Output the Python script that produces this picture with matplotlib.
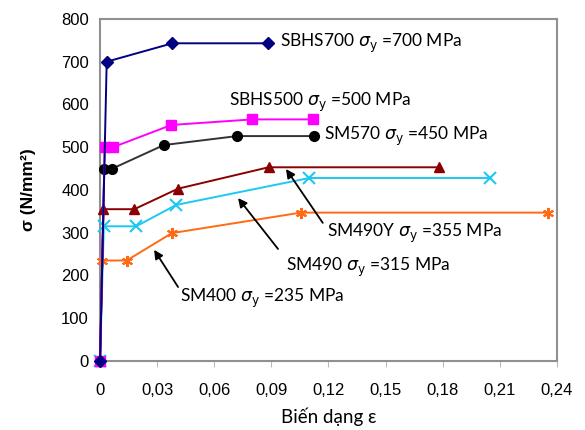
import matplotlib.pyplot as plt
from matplotlib.ticker import FuncFormatter

# Biến dạng (strain) và ứng suất (MPa) cho từng loại thép
eps_sbhs700 = [0, 0.0035, 0.038, 0.088]
sig_sbhs700 = [0, 700, 743, 743]

eps_sbhs500 = [0, 0.0025, 0.0068, 0.0375, 0.080, 0.112]
sig_sbhs500 = [0, 500, 500, 552, 565, 565]

eps_sm570 = [0, 0.0022, 0.0065, 0.0335, 0.072, 0.1125]
sig_sm570 = [0, 450, 450, 505, 526, 526]

eps_sm490y = [0, 0.0018, 0.018, 0.041, 0.0885, 0.178]
sig_sm490y = [0, 355, 355, 403, 453, 453]

eps_sm490 = [0, 0.002, 0.019, 0.040, 0.110, 0.205]
sig_sm490 = [0, 315, 315, 365, 428, 428]

eps_sm400 = [0, 0.001, 0.014, 0.0377, 0.1055, 0.2355]
sig_sm400 = [0, 235, 235, 299, 347, 347]

fig = plt.figure(figsize=(5.85, 4.30), dpi=100)
ax = fig.add_axes([0.171, 0.1605, 0.781, 0.7955])

kw = dict(lw=1.4, markersize=7, clip_on=False, zorder=3)
ax.plot(eps_sm400, sig_sm400, color='#FF6A13', marker=(6, 2, 0), mew=1.5, markersize=8,
        lw=1.4, clip_on=False, zorder=3)
ax.plot(eps_sm490, sig_sm490, color='#1EC8F0', marker='x', mew=1.5, markersize=9,
        lw=1.4, clip_on=False, zorder=3)
ax.plot(eps_sm490y, sig_sm490y, color='#8B0000', marker='^', **kw)
ax.plot(eps_sm570, sig_sm570, color='#333333', marker='o', mfc='black', mec='black', **kw)
ax.plot(eps_sbhs500, sig_sbhs500, color='#FF00FF', marker='s', **kw)
ax.plot(eps_sbhs700, sig_sbhs700, color='#000080', marker='D', markersize=6, lw=1.4,
        clip_on=False, zorder=3)

ax.set_xlim(0, 0.24)
ax.set_ylim(0, 800)
ax.set_xticks([0, 0.03, 0.06, 0.09, 0.12, 0.15, 0.18, 0.21, 0.24])
ax.set_yticks(range(0, 801, 100))
ax.xaxis.set_major_formatter(FuncFormatter(
    lambda v, p: '0' if v == 0 else f'{v:.2f}'.replace('.', ',')))

tick_font = 'Liberation Sans'
for lab in ax.get_xticklabels() + ax.get_yticklabels():
    lab.set_family(tick_font)
    lab.set_fontsize(12)
ax.tick_params(axis='x', direction='out', length=4, color='#BBBBBB', pad=12)
ax.tick_params(axis='y', length=0, pad=8)

for s in ax.spines.values():
    s.set_color('#909090')
    s.set_linewidth(1.5)

ax.set_ylabel('σ (N/mm²)', family=tick_font, fontweight='bold', fontsize=12.5, labelpad=18)
ax.set_xlabel('Biến dạng ε', family='Lato', fontsize=13.5, labelpad=7)

lab_font = dict(family='Lato', fontsize=12.5, va='center')
sg = r'$\sigma_{\mathrm{y}}$'
ax.text(0.0945, 743, f'SBHS700 {sg} =700 MPa', **lab_font)
ax.text(0.068, 604, f'SBHS500 {sg} =500 MPa', **lab_font)
ax.text(0.1175, 526, f'SM570 {sg} =450 MPa', **lab_font)
ax.text(0.1192, 299, f'SM490Y {sg} =355 MPa', **lab_font)
ax.text(0.0977, 220, f'SM490 {sg} =315 MPa', **lab_font)
ax.text(0.042, 147, f'SM400 {sg} =235 MPa', **lab_font)

# Mũi tên chỉ từ nhãn đến đường cong tương ứng
arrow = dict(arrowstyle='-|>', color='black', lw=1.3, mutation_scale=13,
             shrinkA=0, shrinkB=0)
arrows = [((0.117, 323), (0.0977, 449)),
          ((0.0935, 262), (0.0725, 381)),
          ((0.041, 173), (0.0284, 260))]
for tail, head in arrows:
    ax.annotate('', xy=head, xytext=tail, arrowprops=arrow)

fig.savefig('out.png', dpi=100)
